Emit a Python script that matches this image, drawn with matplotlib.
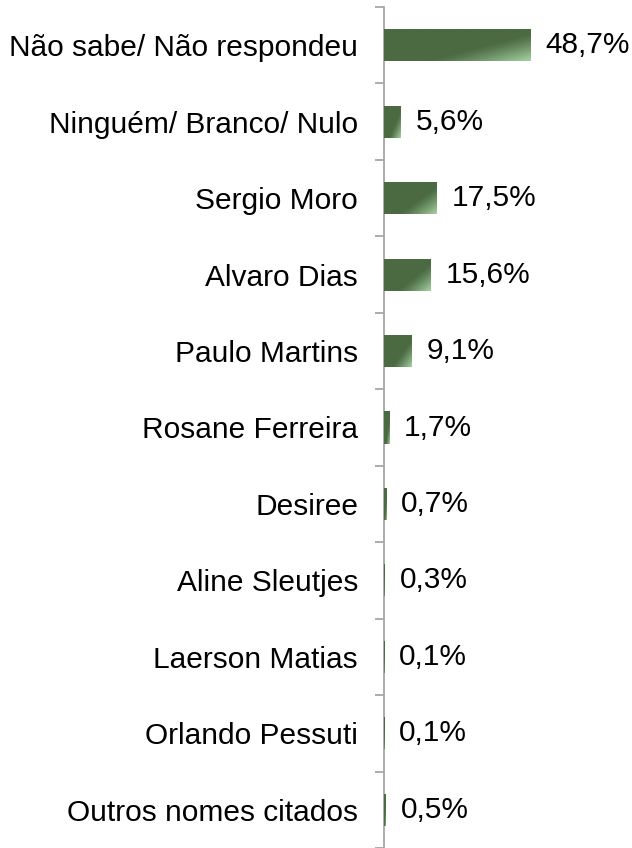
import matplotlib
matplotlib.use("Agg")
import matplotlib.pyplot as plt
import numpy as np
from matplotlib.colors import to_rgb

categories = ["Não sabe/ Não respondeu", "Ninguém/ Branco/ Nulo", "Sergio Moro",
              "Alvaro Dias", "Paulo Martins", "Rosane Ferreira", "Desiree",
              "Aline Sleutjes", "Laerson Matias", "Orlando Pessuti",
              "Outros nomes citados"]
values = [48.7, 5.6, 17.5, 15.6, 9.1, 1.7, 0.7, 0.3, 0.1, 0.1, 0.5]
labels = ["48,7%", "5,6%", "17,5%", "15,6%", "9,1%", "1,7%", "0,7%", "0,3%",
          "0,1%", "0,1%", "0,5%"]

plt.rcParams['font.family'] = ['Liberation Sans', 'DejaVu Sans']

fig = plt.figure(figsize=(6.32, 8.48), dpi=100)
ax = fig.add_axes([384/632, 0.0, 1 - 384/632, 1 - 7/848])

n = len(categories)
y = np.arange(n)
bar_h = 0.42
dark = np.array(to_rgb("#4b6a42"))
light = np.array(to_rgb("#a3d0a0"))

# gradient image
gx, gy = np.meshgrid(np.linspace(0, 1, 60), np.linspace(0, 1, 20))
t = 0.55 * gx + 0.45 * gy  # gy: 0 top -> 1 bottom (image origin upper)
t = np.clip((t - 0.62) / 0.38, 0, 1) ** 1.2
img = dark[None, None, :] * (1 - t[..., None]) + light[None, None, :] * t[..., None]

bars = ax.barh(y, values, height=bar_h, color="#4b6a42", edgecolor="none")
for b in bars:
    x0, y0 = b.get_x(), b.get_y()
    w, h = b.get_width(), b.get_height()
    im = ax.imshow(img, extent=[x0, x0 + w, y0 + h, y0], aspect="auto",
                   origin="upper", interpolation="bilinear", zorder=3)
    im.set_clip_path(b)

for yi, v, lab in zip(y, values, labels):
    ax.annotate(lab, (v, yi), xytext=(15, 0), textcoords="offset pixels",
                va="center", ha="left", fontsize=21.5, color="black")

ax.set_xlim(0, (632 - 384) / 3.0)
ax.set_ylim(n - 0.5, -0.5)
ax.set_yticks(y)
ax.set_yticklabels(categories, fontsize=21.5)
ax.tick_params(axis="y", which="major", length=0, pad=18.7)
ax.set_yticks(np.arange(-0.5, n, 1.0), minor=True)
ax.tick_params(axis="y", which="minor", length=6.5, width=1.3, color="#a6a6a6")
ax.set_xticks([])
for s in ["top", "right", "bottom"]:
    ax.spines[s].set_visible(False)
ax.spines["left"].set_color("#a6a6a6")
ax.spines["left"].set_linewidth(1.3)
ax.set_facecolor("white")

fig.savefig("out.png", dpi=100)
